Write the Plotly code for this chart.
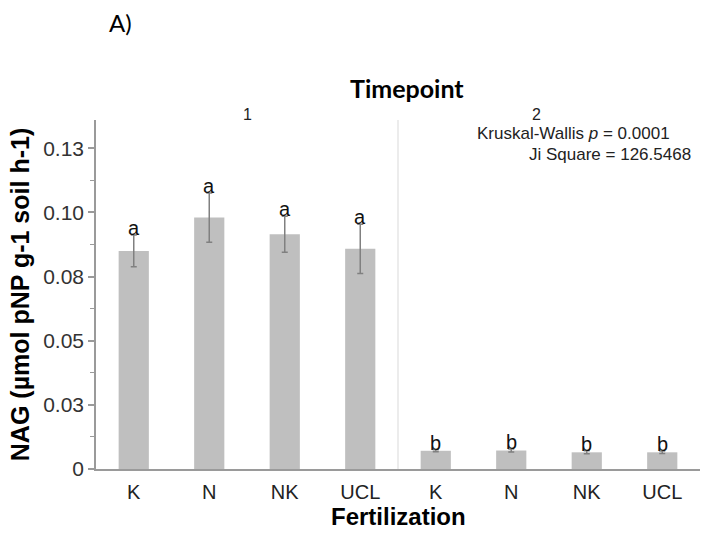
import plotly.graph_objects as go

# ---- data ----
categories = ["K", "N", "NK", "UCL"]
timepoints = ["1", "2"]
means_t1 = [0.0850, 0.0980, 0.0915, 0.0858]
errs_t1 = [0.0062, 0.0096, 0.0070, 0.0096]
means_t2 = [0.0071, 0.0072, 0.0065, 0.0065]
errs_t2 = [0.0004, 0.0006, 0.0006, 0.0005]
letters_t1 = ["a", "a", "a", "a"]
letters_t2 = ["b", "b", "b", "b"]
ytick_vals = [0, 0.025, 0.05, 0.075, 0.10, 0.125]
ytick_text = ["0", "0.03", "0.05", "0.08", "0.10", "0.13"]
stats_lines = ["Kruskal-Wallis <i>p</i> = 0.0001", "Ji Square = 126.5468"]

BAR = "#bfbfbf"
ERR = "#808080"
AX = "#9a9a9a"
FONT = "Liberation Sans, Arial, sans-serif"

W, H = 701, 534
L, R, T, B = 96, 1, 120, 65
pw, ph = W - L - R, H - T - B

def px_x(px):
    return (px - L) / pw

def px_y(py):
    return 1 - (py - T) / ph

fig = go.Figure()
for xa, means, errs in [("x", means_t1, errs_t1), ("x2", means_t2, errs_t2)]:
    fig.add_trace(go.Bar(
        x=categories, y=means, xaxis=xa, yaxis="y", width=0.4,
        marker=dict(color=BAR, line=dict(width=0)),
        error_y=dict(type="data", array=errs, color=ERR, thickness=1.5, width=3),
        showlegend=False, hoverinfo="skip"))

annotations = []
for xa, means, errs, lets in [("x", means_t1, errs_t1, letters_t1),
                               ("x2", means_t2, errs_t2, letters_t2)]:
    for c, m, e, l in zip(categories, means, errs, lets):
        annotations.append(dict(x=c, y=m + e, xref=xa, yref="y", text=l,
                                showarrow=False, yanchor="bottom", yshift=-6,
                                font=dict(family=FONT, size=20, color="#111")))

# panel labels
for i, tp in enumerate(timepoints):
    annotations.append(dict(x=0.24 + 0.5 * i, y=1.0, xref="paper", yref="paper",
                            text=tp, showarrow=False, yanchor="bottom", yshift=-5,
                            font=dict(family=FONT, size=16, color="#222")))
# stats text
annotations.append(dict(x=px_x(672), y=px_y(133), xref="paper", yref="paper",
                        text=stats_lines[0], showarrow=False, xanchor="right", yanchor="middle",
                        font=dict(family=FONT, size=17, color="#222")))
annotations.append(dict(x=px_x(693), y=px_y(154), xref="paper", yref="paper",
                        text=stats_lines[1], showarrow=False, xanchor="right", yanchor="middle",
                        font=dict(family=FONT, size=17, color="#222")))
# Title "Timepoint"
annotations.append(dict(x=px_x(407), y=px_y(88), xref="paper", yref="paper",
                        text="<b>Timepoint</b>", showarrow=False, yanchor="middle",
                        font=dict(family="Lato, Open Sans, sans-serif", size=25, color="#000")))
# "A)" label
annotations.append(dict(x=px_x(107), y=px_y(22), xref="paper", yref="paper",
                        text="A)", showarrow=False, xanchor="left", yanchor="middle",
                        font=dict(family="Lato, Open Sans, sans-serif", size=24, color="#000")))
# x-axis title
annotations.append(dict(x=px_x(398), y=px_y(516), xref="paper", yref="paper",
                        text="<b>Fertilization</b>", showarrow=False, yanchor="middle",
                        font=dict(family=FONT, size=24, color="#000")))

xcommon = dict(type="category", showline=True, linecolor=AX, linewidth=2,
               ticks="", showgrid=False, zeroline=False, ticklabelstandoff=4,
               tickfont=dict(family=FONT, size=20, color="#222"),
               range=[-0.5, 3.5])

fig.update_layout(
    width=W, height=H,
    margin=dict(l=L, r=R, t=T, b=B),
    paper_bgcolor="white", plot_bgcolor="white",
    xaxis=dict(domain=[0, 0.5], anchor="y", **xcommon),
    xaxis2=dict(domain=[0.5, 1], anchor="y", **xcommon),
    yaxis=dict(range=[0, 0.136], tickvals=ytick_vals, ticktext=ytick_text,
               showline=True, linecolor=AX, linewidth=1.5, ticks="outside",
               ticklen=6, tickcolor=AX, tickwidth=1.5, showgrid=False, zeroline=False,
               tickfont=dict(family=FONT, size=21, color="#333"),
               minor=dict(dtick=0.0125, tick0=0, ticks="outside", ticklen=4,
                          tickcolor=AX, tickwidth=1, showgrid=False),
               title=dict(text="<b>NAG (µmol pNP g-1 soil h-1)</b>", standoff=6,
                          font=dict(family=FONT, size=25, color="#000"))),
    annotations=annotations,
    shapes=[dict(type="line", xref="paper", yref="paper", x0=0.5, x1=0.5, y0=0, y1=1,
                 line=dict(color="#ececec", width=2), layer="below")],
)

fig.write_html("out.html")
